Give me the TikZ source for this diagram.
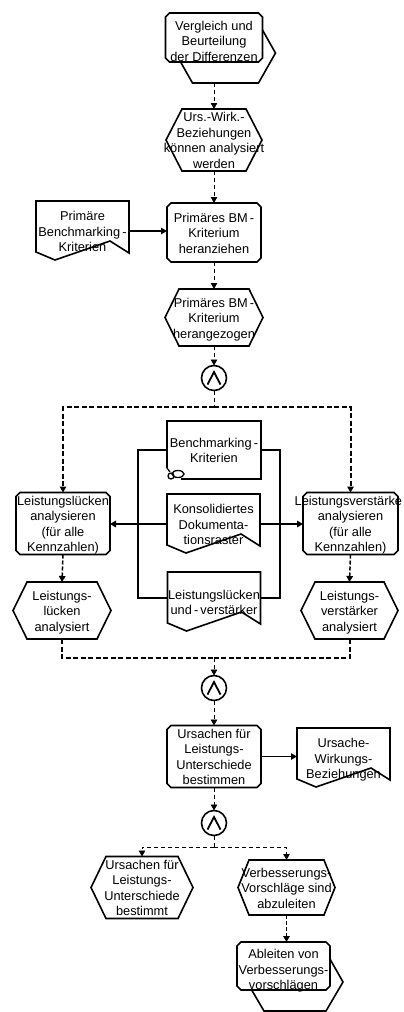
\documentclass[tikz,border=0pt]{standalone}
\usepackage{fontspec}
\setmainfont{Liberation Sans}
\usetikzlibrary{arrows.meta,calc}
\pgfdeclarelayer{background}
\pgfsetlayers{background,main}

\newcommand\lblfont{\fontsize{12.8}{15.5}\selectfont}
% centred multi-line label that may overhang its shape; #1 = vertical offset
\newcommand\tx[2][-2pt]{\raisebox{#1}[\height][\depth]{\makebox[0pt]{\begin{tabular}{@{}c@{}}#2\end{tabular}}}}

% function: rectangle with chamfered corners
\newcommand\fnshape[1]{%
  \filldraw[shp] ([xshift=4pt]#1.north west) -- ([xshift=-4pt]#1.north east)
    -- ([yshift=-4pt]#1.north east) -- ([yshift=4pt]#1.south east)
    -- ([xshift=-4pt]#1.south east) -- ([xshift=4pt]#1.south west)
    -- ([yshift=4pt]#1.south west) -- ([yshift=-4pt]#1.north west) -- cycle;}
% event: hexagon, #2 = horizontal inset of the slanted sides
\newcommand\evshape[2]{%
  \filldraw[shp] (#1.west) -- ([xshift=#2]#1.north west) -- ([xshift=-#2]#1.north east)
    -- (#1.east) -- ([xshift=-#2]#1.south east) -- ([xshift=#2]#1.south west) -- cycle;}
% document: rectangle with a wavy lower edge
\newcommand\docshape[1]{%
  \filldraw[shp] (#1.north west) -- (#1.north east) -- ([yshift=8pt]#1.south east)
    -- ([xshift=-19pt,yshift=20pt]#1.south east) -- ([xshift=19pt,yshift=1pt]#1.south west)
    -- ([yshift=9pt]#1.south west) -- cycle;}
% process interface: hexagon lying behind the function box
\newcommand\ifshape[1]{%
  \filldraw[shp] ($(#1.north west)+(10pt,-40pt)$) -- ($(#1.north west)+(27pt,-10pt)$)
    -- ($(#1.north east)+(-4pt,-10pt)$) -- ($(#1.north east)+(13pt,-40pt)$)
    -- ($(#1.south east)+(-4pt,-21pt)$) -- ($(#1.south west)+(27pt,-21pt)$) -- cycle;}
% data object with a curled corner
\newcommand\bmshape[1]{%
  \filldraw[shp] ([yshift=11pt]#1.south west) -- (#1.north west) -- (#1.north east)
    -- (#1.south east) -- ([xshift=14pt]#1.south west);
  \draw[shp, fill=none, line width=1.3pt] ([shift={(11pt,5pt)}]#1.south west) ellipse [x radius=6pt, y radius=3.5pt];
  \draw[shp, fill=none, line width=1.3pt] ([shift={(4pt,3pt)}]#1.south west) circle [radius=3pt];
  \draw[shp, line width=1.3pt] ([yshift=11pt]#1.south west) -- ([shift={(3pt,7pt)}]#1.south west);}
% logical AND
\newcommand\andsym[1]{%
  \draw[line width=1.8pt, line join=miter] ([shift={(-6.5pt,-6.5pt)}]#1.center)
    -- ([shift={(0pt,6pt)}]#1.center) -- ([shift={(6.5pt,-6.5pt)}]#1.center);}

\begin{document}
\begin{tikzpicture}[x=1pt, y=1pt,
  base/.style={inner sep=0pt, outer sep=0pt, font=\lblfont},
  shp/.style={draw=black, fill=white, line width=1.6pt, line join=miter},
  andc/.style={circle, draw=black, fill=white, line width=1.6pt, minimum size=25pt, inner sep=0pt, outer sep=0pt},
  tip/.style={-{Triangle[length=6pt,width=6.5pt]}},
  cf/.style={line width=0.9pt, dash pattern=on 4pt off 3pt},
  cfm/.style={line width=1.5pt, dash pattern=on 4pt off 2pt},
  cfk/.style={line width=2pt, dash pattern=on 5pt off 2.5pt},
  inf/.style={line width=1.3pt},
  infk/.style={line width=2pt}]
\useasboundingbox (0,0) rectangle (404,-1012);

% ---------- objects ----------
\node[base, minimum width=97pt, minimum height=49pt] (pTop) at (214,-37.5)
  {\tx[-5pt]{Vergleich und\\Beurteilung\\der Differenzen}};
\coordinate (pTopOut) at (214,-83);
\node[base, minimum width=96pt, minimum height=58pt] (e1) at (214,-140)
  {\tx{Urs.-Wirk.-\\Beziehungen\\können analysiert\\werden}};
\node[base, minimum width=93pt, minimum height=60pt] (dLeft) at (82.5,-231)
  {\tx{Primäre\\Benchmarking\,-\\Kriterien}};
\node[base, minimum width=94pt, minimum height=59pt] (f2) at (214,-232.5)
  {\tx{Primäres BM\,-\\Kriterium\\heranziehen}};
\node[base, minimum width=98pt, minimum height=57pt] (e2) at (214,-317.5)
  {\tx{Primäres BM\,-\\Kriterium\\herangezogen}};
\node[andc] (a1) at (214,-378) {};
\node[base, minimum width=94pt, minimum height=58pt] (dBM) at (214,-450)
  {\tx{Benchmarking\,-\\Kriterien}};
\node[base, minimum width=94pt, minimum height=57pt] (fL) at (63,-523.5)
  {\tx{Leistungslücken\\analysieren\\(für alle\\Kennzahlen)}};
\node[base, minimum width=93pt, minimum height=60pt] (dKD) at (213.5,-524)
  {\tx{Konsolidiertes\\Dokumenta-\\tionsraster}};
\node[base, minimum width=95pt, minimum height=57pt] (fR) at (350.5,-523.5)
  {\tx{Leistungsverstärke\kern4.3pt\\analysieren\\(für alle\\Kennzahlen)}};
\node[base, minimum width=93pt, minimum height=60pt] (dLV) at (214,-602)
  {\tx{Leistungslücken\\und\,-\,verstärker}};
\node[base, minimum width=98pt, minimum height=57pt] (eL) at (62,-610.5)
  {\tx{Leistungs-\\lücken\\analysiert}};
\node[base, minimum width=97pt, minimum height=57pt] (eR) at (349.5,-610.5)
  {\tx{Leistungs-\\verstärker\\analysiert}};
\node[andc] (a2) at (214,-688) {};
\node[base, minimum width=94pt, minimum height=57pt] (f3) at (214,-756.5)
  {\tx{Ursachen für\\Leistungs-\\Unterschiede\\bestimmen}};
\node[base, minimum width=93pt, minimum height=60pt] (dUW) at (343.5,-758)
  {\tx{Ursache-\\Wirkungs-\\Beziehungen}};
\node[andc] (a3) at (214,-823) {};
\node[base, minimum width=102pt, minimum height=59pt] (eB1) at (142,-887.5)
  {\tx{Ursachen für\\Leistungs-\\Unterschiede\\bestimmt}};
\node[base, minimum width=97pt, minimum height=55pt] (eB2) at (286.5,-887.5)
  {\tx{Verbesserungs-\\Vorschläge sind\\abzuleiten}};
\node[base, minimum width=93pt, minimum height=48pt] (pBot) at (283.5,-966)
  {\tx[-5pt]{Ableiten von\\Verbesserungs-\\vorschlägen}};

\andsym{a1}\andsym{a2}\andsym{a3}

% ---------- outlines ----------
\begin{pgfonlayer}{background}
  \fill[white] (0,0) rectangle (404,-1012);
  \ifshape{pTop}\fnshape{pTop}
  \ifshape{pBot}\fnshape{pBot}
  \foreach \n in {f2,fL,fR,f3} {\fnshape{\n}}
  \evshape{e1}{16pt}\evshape{e2}{14pt}
  \evshape{eL}{14pt}\evshape{eR}{14pt}
  \evshape{eB1}{15pt}\evshape{eB2}{11pt}
  \foreach \n in {dLeft,dKD,dLV,dUW} {\docshape{\n}}
  \bmshape{dBM}
\end{pgfonlayer}

% ---------- junction points ----------
\coordinate (s1) at (214,-407);
\coordinate (m1) at (214,-658);
\coordinate (s3) at (214,-847);
\coordinate (jl) at (138,-524);
\coordinate (jr) at (280,-524);

% ---------- control flow ----------
\draw[cf, tip] (pTopOut) -- (e1.north);
\draw[cf, tip] (e1.south) -- (f2.north);
\draw[cf, tip] (f2.south) -- (e2.north);
\draw[cf, tip] (e2.south) -- (a1.north);
\draw[cf] (a1.south) -- (s1);
\draw[cfk, tip] (s1) -| (fL.north);
\draw[cfk, tip] (s1) -| (fR.north);
\draw[cfm, tip] (fL.south) -- (eL.north);
\draw[cfm, tip] (fR.south) -- (eR.north);
\draw[cfk] (eL.south) |- (m1);
\draw[cfk] (eR.south) |- (m1);
\draw[cf, tip] (m1) -- (a2.north);
\draw[cf, tip] (a2.south) -- (f3.north);
\draw[cf, tip] (f3.south) -- (a3.north);
\draw[cf] (a3.south) -- (s3);
\draw[cf, tip] (s3) -| (eB1.north);
\draw[cf, tip] (s3) -| (eB2.north);
\draw[cfm, tip] (eB2.south) -- (eB2.south |- pBot.north);

% ---------- information flow ----------
\draw[inf, tip] (dLeft.east) -- (dLeft.east -| f2.west);
\draw[inf] (dBM.west) -| (jl) |- ([yshift=4pt]dLV.west);
\draw[inf] (dBM.east) -| (jr) |- ([yshift=4pt]dLV.east);
\draw[inf] (dKD.west) -- (jl);
\draw[inf] (dKD.east) -- (jr);
\draw[infk, tip] (jl) -- (jl -| fL.east);
\draw[infk, tip] (jr) -- (jr -| fR.west);
\draw[inf, tip] (f3.east) -- (f3.east -| dUW.west);
\end{tikzpicture}
\end{document}
